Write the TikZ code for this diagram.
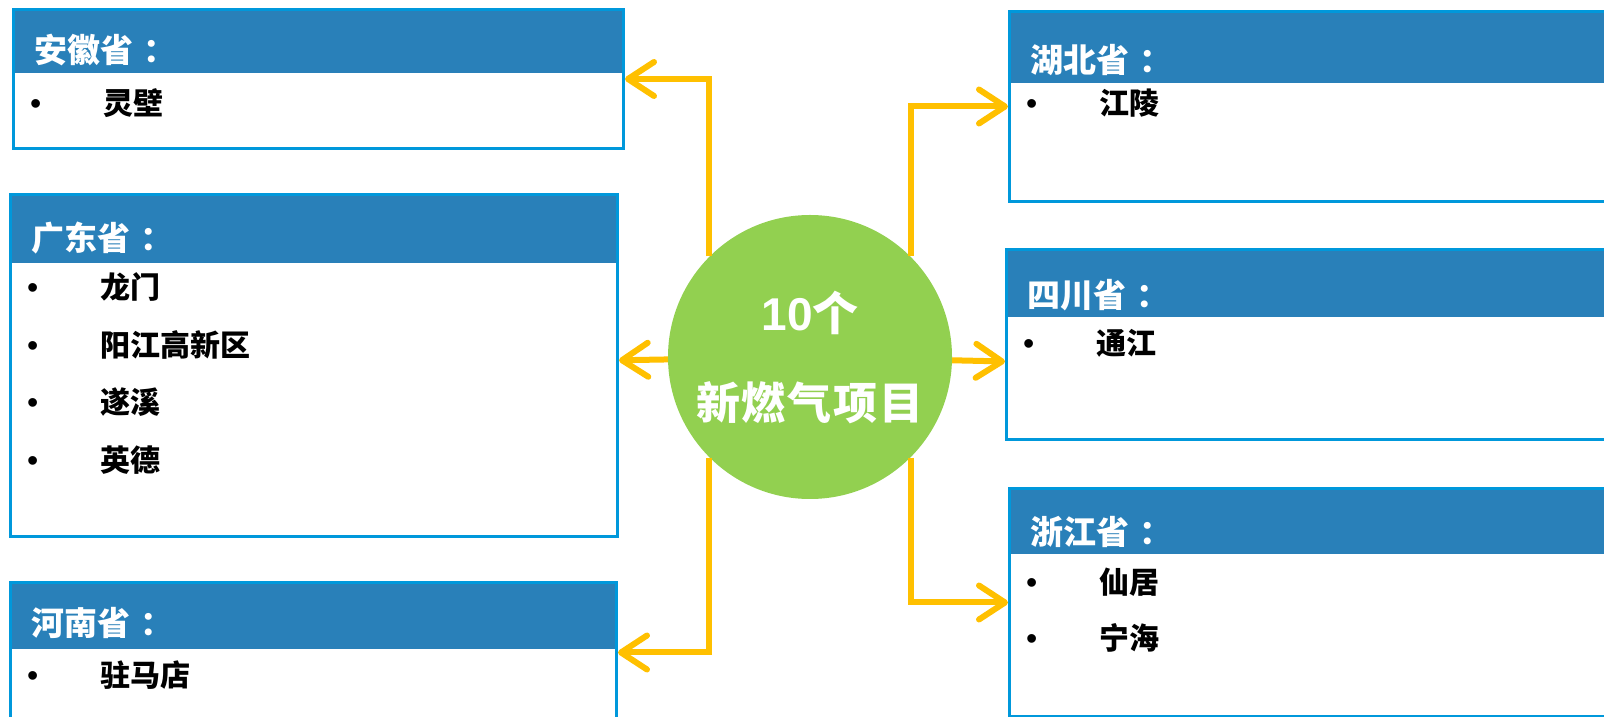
\documentclass[tikz,border=0pt]{standalone}
\usepackage{fontspec}
\setmainfont{Liberation Sans}
\newfontfamily\cjk{Noto Sans CJK SC}
\usetikzlibrary{arrows.meta}

\definecolor{headblue}{RGB}{41,128,185}
\definecolor{edgeblue}{RGB}{0,152,219}
\definecolor{arrowgold}{RGB}{255,192,0}
\definecolor{leafgreen}{RGB}{146,208,80}

\tikzset{
  prov/.style={rectangle,draw=edgeblue,line width=3pt,fill=white,anchor=north west,inner sep=0pt,
    path picture={\fill[headblue] (path picture bounding box.north west) rectangle ([yshift=-#1]path picture bounding box.north east);}},
  headtxt/.style={anchor=west,inner sep=0pt,text=white,font=\cjk\bfseries\fontsize{33}{38}\selectfont},
  item/.style={anchor=west,inner sep=0pt,font=\cjk\bfseries\fontsize{30}{35}\selectfont},
  arr/.style={draw=arrowgold,line width=6pt,-{Straight Barb[length=26pt,width=34pt,round]}},
}
\newcommand{\bul}{\makebox[73pt][l]{\normalfont\fontsize{32}{36}\selectfont\textbullet}}
\newcommand{\colo}{\kern10pt：}

\begin{document}
\begin{tikzpicture}[x=1pt,y=1pt]
        \useasboundingbox (0,0) rectangle (1604,717);

        % provinces
        \node[prov=64pt,minimum width=610pt,minimum height=139pt] (ah) at (12,709) {};
        \node[prov=69pt,minimum width=607pt,minimum height=342pt] (gd) at (9,524) {};
        \node[prov=67pt,minimum width=606pt,minimum height=140pt] (hn) at (9,136) {};
        \node[prov=72pt,minimum width=610pt,minimum height=190pt] (hb) at (1008,707) {};
        \node[prov=68pt,minimum width=613pt,minimum height=190pt] (sc) at (1005,469) {};
        \node[prov=66pt,minimum width=610pt,minimum height=228pt] (zj) at (1008,230) {};

        % centre
        \node[circle,fill=leafgreen,minimum size=284pt,inner sep=0pt] (c) at (810,360) {};
        \node[text=white,font=\bfseries\fontsize{46}{50}\selectfont] (num) at ([yshift=44pt]c.center) {10{\cjk 个}};
        \node[text=white,font=\cjk\bfseries\fontsize{44}{50}\selectfont] (name) at ([yshift=-46pt]c.center) {新\kern2pt 燃\kern2pt 气\kern2pt 项\kern2pt 目};

        \draw[arr] (c.135) |- (ah.east);
        \draw[arr] (c) -- (gd);
        \draw[arr] (c.225) |- (hn.east);
        \draw[arr] (c.45) |- (hb.west);
        \draw[arr] (c) -- ([yshift=-17pt]sc.west);
        \draw[arr] (c.315) |- (zj.west);

        \begin{scope}[every node/.style={headtxt}]
          \node (ahT) at ([shift={(22,-42)}]ah.north west) {安徽省\colo};
          \node (gdT) at ([shift={(22,-45)}]gd.north west) {广东省\colo};
          \node (hnT) at ([shift={(22,-42)}]hn.north west) {河南省\colo};
          \node (hbT) at ([shift={(22,-50)}]hb.north west) {湖北省\colo};
          \node (scT) at ([shift={(22,-47)}]sc.north west) {四川省\colo};
          \node (zjT) at ([shift={(22,-45)}]zj.north west) {浙江省\colo};
        \end{scope}

        \begin{scope}[every node/.style={item}]
          \node (ah1) at ([shift={(18,-95)}]ah.north west) {\bul 灵壁};
          \node (gd1) at ([shift={(18,-94)}]gd.north west) {\bul 龙门};
          \node (gd2) at ([shift={(18,-152)}]gd.north west) {\bul 阳江高新区};
          \node (gd3) at ([shift={(18,-209)}]gd.north west) {\bul 遂溪};
          \node (gd4) at ([shift={(18,-267)}]gd.north west) {\bul 英德};
          \node (hn1) at ([shift={(18,-94)}]hn.north west) {\bul 驻马店};
          \node (hb1) at ([shift={(18,-93)}]hb.north west) {\bul 江陵};
          \node (sc1) at ([shift={(18,-95)}]sc.north west) {\bul 通江};
          \node (zj1) at ([shift={(18,-95)}]zj.north west) {\bul 仙居};
          \node (zj2) at ([shift={(18,-151)}]zj.north west) {\bul 宁海};
        \end{scope}

      \end{tikzpicture}
\end{document}
